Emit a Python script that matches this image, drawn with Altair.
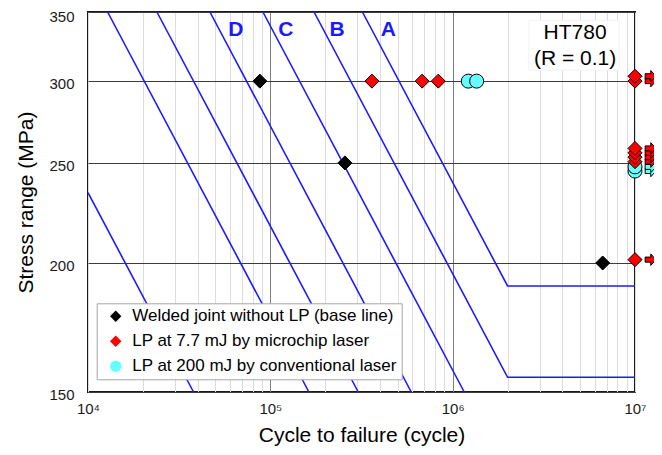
import altair as alt
import pandas as pd

FONT = "Liberation Sans"

# ---------------- data ----------------
# S-N design curves (class, cycles, stress range) - vertices of each polyline
curve_class = ["A", "A", "A", "B", "B", "B", "C", "C", "D", "D", "E", "E", "F", "F", "H", "H"]
curve_N = [320000, 2000000, 10000000, 173700, 2000000, 10000000, 91100, 1157000,
           46650, 592600, 23880, 303400, 12810, 162700, 10000, 37900]
curve_S = [350, 190, 190, 350, 155, 155, 350, 150, 350, 150, 350, 150, 350, 150, 234, 150]

series_names = ["Welded joint without LP (base line)",
                "LP at 7.7 mJ by microchip laser",
                "LP at 200 mJ by conventional laser"]
series_fill = ["#000000", "#ff0000", "#66ffff"]
series_shape = ["diamond", "diamond", "circle"]

conv_N = [1218000, 1354000, 10000000, 10000000]
conv_S = [300, 300, 245.5, 247.8]
conv_runout = [0, 0, 1, 1]

welded_N = [87600, 256500, 6650000]
welded_S = [300, 250, 200]
welded_runout = [0, 0, 0]

micro_N = [360600, 680000, 834000, 10000000, 10000000, 10000000,
           10000000, 10000000, 10000000, 10000000]
micro_S = [300, 300, 300, 300, 303.3, 201.5, 250.7, 253.2, 255.7, 258.2]
micro_runout = [0, 0, 0, 1, 1, 1, 1, 1, 1, 1]

class_labels = ["D", "C", "B", "A"]
class_label_N = [64650, 121700, 232600, 443100]
class_label_S = [336, 336, 336, 336]

info_text = ["HT780", "(R = 0.1)"]
info_N = [4690000, 4690000]
info_S = [333.8, 315.0]
info_box = {"N": 2620000, "N2": 8180000, "S": 307.4, "S2": 343.6}

x_decades = [10000, 100000, 1000000, 10000000]
x_decade_labels = ["10\u2074", "10\u2075", "10\u2076", "10\u2077"]
y_ticks = [150, 200, 250, 300, 350]

# ---------------- tables ----------------
curves = pd.DataFrame({"cls": curve_class, "N": curve_N, "S": curve_S})
curves["ord"] = range(len(curves))

pts = pd.concat([
    pd.DataFrame({"series": series_names[2], "N": conv_N, "S": conv_S, "runout": conv_runout}),
    pd.DataFrame({"series": series_names[0], "N": welded_N, "S": welded_S, "runout": welded_runout}),
    pd.DataFrame({"series": series_names[1], "N": micro_N, "S": micro_S, "runout": micro_runout}),
], ignore_index=True)

lab_df = pd.DataFrame({"t": class_labels, "N": class_label_N, "S": class_label_S})
info_df = pd.DataFrame({"t": info_text, "N": info_N, "S": info_S})
box_df = pd.DataFrame([info_box])

x_grid = [m * d for d in x_decades[:-1] for m in range(1, 10)] + [x_decades[-1]]
label_expr = "".join(f"datum.value == {v} ? '{l}' : " for v, l in zip(x_decades, x_decade_labels)) + "''"
major_test = " || ".join(f"datum.value == {v}" for v in x_decades[1:-1])

xs = alt.Scale(type="log", domain=[x_decades[0], x_decades[-1]], nice=False)
ys = alt.Scale(type="log", domain=[y_ticks[0], y_ticks[-1]], nice=False)

x_axis = alt.Axis(values=x_grid, labelExpr=label_expr, grid=True,
                  gridColor={"condition": {"test": major_test, "value": "#7f7f7f"}, "value": "#dcdcdc"},
                  gridWidth=1, ticks=False, domain=False,
                  labelFont=FONT, labelFontSize=15, labelColor="#1a1a1a", labelPadding=9,
                  labelFlush=False, labelOverlap=False,
                  title="Cycle to failure (cycle)", titleFont=FONT, titleFontSize=21,
                  titleFontWeight="normal", titleColor="black", titlePadding=8)
y_axis = alt.Axis(values=y_ticks, grid=True, gridColor="#3c3c3c", gridWidth=1,
                  ticks=False, domain=False,
                  labelFont=FONT, labelFontSize=15, labelColor="#1a1a1a", labelPadding=14,
                  labelOverlap=False,
                  labelOffset={"condition": {"test": f"datum.value == {y_ticks[-1]}", "value": 4.8},
                               "value": 2.5},
                  title="Stress range (MPa)", titleFont=FONT, titleFontSize=21,
                  titleFontWeight="normal", titleColor="black", titlePadding=12)


def X(field="N"):
    return alt.X(f"{field}:Q", scale=xs, axis=x_axis)


def Y(field="S"):
    return alt.Y(f"{field}:Q", scale=ys, axis=y_axis)


box = alt.Chart(box_df).mark_rect(fill="white", stroke="#f2f2f2").encode(
    x=X(), x2="N2:Q", y=Y(), y2="S2:Q")

lines = alt.Chart(curves).mark_line(color="#1a1aff", strokeWidth=1.6).encode(
    x=X(), y=Y(), detail="cls:N", order="ord:Q")

labels = alt.Chart(lab_df).mark_text(font=FONT, fontSize=21, fontWeight="bold",
                                     color="#1a1aff", align="center", baseline="middle").encode(
    x=X(), y=Y(), text="t:N")

info = alt.Chart(info_df).mark_text(font=FONT, fontSize=21, color="black",
                                    align="center", baseline="middle").encode(
    x=X(), y=Y(), text="t:N")

# run-out arrow (drawn to the right of the point, must fit before the page edge)
arrow_path = "M1.45,-0.36L2.25,-0.36L2.25,-0.82L3.0,0L2.25,0.82L2.25,0.36L1.45,0.36Z"
arrows_cyan = alt.Chart(pts).transform_filter(
    f"datum.runout == 1 && datum.series == '{series_names[2]}'").mark_point(
    shape=arrow_path, size=196, filled=True, fill=series_fill[2], stroke="black",
    strokeWidth=1, opacity=1).encode(x=X(), y=Y())
arrows_red = alt.Chart(pts).transform_filter(
    f"datum.runout == 1 && datum.series == '{series_names[1]}'").mark_point(
    shape=arrow_path, size=196, filled=True, fill=series_fill[1], stroke="black",
    strokeWidth=1, opacity=1).encode(x=X(), y=Y())

leg = alt.Legend(title=None, orient="none", legendX=8.7, legendY=291.3,
                 fillColor="white", strokeColor="#a6a6a6", padding=4.5,
                 labelFont=FONT, labelFontSize=17, labelColor="black", labelLimit=400,
                 symbolSize=130, symbolStrokeColor="black", symbolStrokeWidth=1,
                 symbolOffset=6, labelOffset=8, rowPadding=7)

points = alt.Chart(pts).mark_point(filled=True, size=196, stroke="black",
                                   strokeWidth=1, opacity=1).encode(
    x=X(), y=Y(),
    fill=alt.Fill("series:N", scale=alt.Scale(domain=series_names, range=series_fill), legend=leg),
    shape=alt.Shape("series:N", scale=alt.Scale(domain=series_names, range=series_shape), legend=leg),
)

chart = alt.layer(box, lines, labels, info, arrows_cyan, arrows_red, points).properties(
    width=547, height=380,
    padding={"left": 80, "top": 4, "right": 19, "bottom": 55},
    autosize=alt.AutoSizeParams(type="none"),
).configure_view(stroke="#1a1a1a", strokeWidth=2)

chart.save("out.html", embed_options={"renderer": "svg", "actions": False})
